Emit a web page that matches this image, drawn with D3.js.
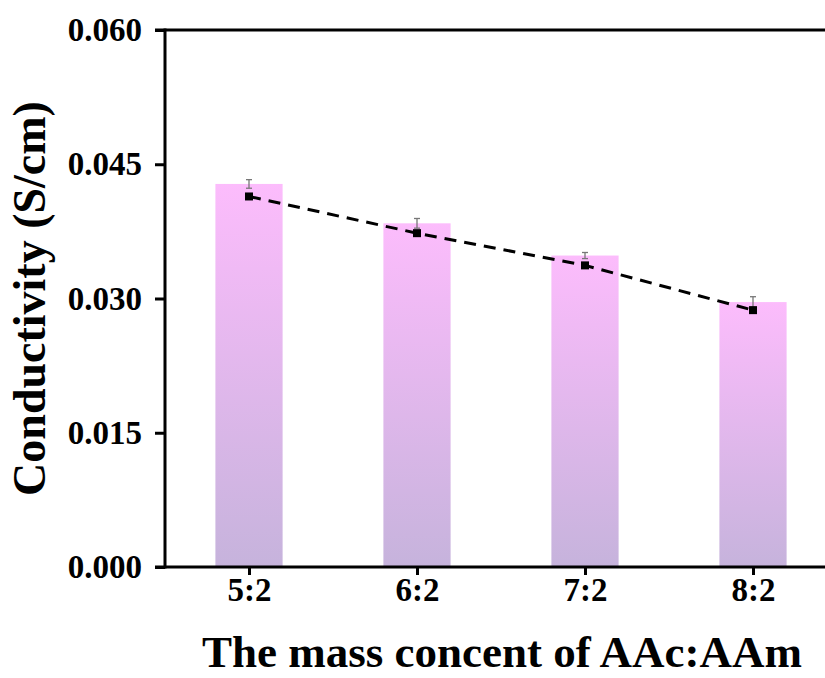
<!DOCTYPE html>
<html>
<head>
<script src="https://d3js.org/d3.v7.min.js"></script>
<style>
  body { margin: 0; background: white; }
  text { font-family: "Liberation Serif", "Times New Roman", serif; font-weight: bold; }
</style>
</head>
<body>
<svg width="825" height="678"></svg>
<script>
const categories = ["5:2", "6:2", "7:2", "8:2"]
const barValues = [0.0428, 0.0384, 0.0348, 0.0296]
const barErrors = [0.00048, 0.00054, 0.00034, 0.0006]
const lineValues = [0.0414, 0.0373, 0.0337, 0.0287]
const yTicks = [0, 0.015, 0.030, 0.045, 0.060]

const svg = d3.select("svg")
const plotLeft = 165, plotRight = 837, plotTop = 30, plotBottom = 567

var x = d3.scaleLinear().domain([0.5, 4.5]).range([plotLeft, plotRight])
var y = d3.scaleLinear().domain([0, 0.06]).range([plotBottom, plotTop])
const bw = 0.4 * (x(2) - x(1))

var grad = svg.append("defs").append("linearGradient")
  .attr("id", "barGrad")
  .attr("x1", 0).attr("y1", 0).attr("x2", 0).attr("y2", 1)
grad.append("stop").attr("offset", "0%").attr("stop-color", "#fcbcfc")
grad.append("stop").attr("offset", "100%").attr("stop-color", "#c6b3dc")

// bars
svg.append("g").selectAll("rect").data(barValues).enter().append("rect")
  .attr("x", function(d, i){ return x(i + 1) - bw / 2 })
  .attr("y", function(d){ return y(d) })
  .attr("width", bw)
  .attr("height", function(d){ return plotBottom - y(d) })
  .style("fill", "url(#barGrad)")

// error bars
var eb = svg.append("g").style("stroke", "#777").style("stroke-width", 1.3)
barValues.forEach(function(d, i){
  var cx = x(i + 1), e = barErrors[i]
  eb.append("line").attr("x1", cx).attr("x2", cx).attr("y1", y(d + e)).attr("y2", y(d - e))
  eb.append("line").attr("x1", cx - 3).attr("x2", cx + 3).attr("y1", y(d + e)).attr("y2", y(d + e))
  eb.append("line").attr("x1", cx - 3).attr("x2", cx + 3).attr("y1", y(d - e)).attr("y2", y(d - e))
})

// dashed line + square markers
var line = d3.line().x(function(d, i){ return x(i + 1) }).y(function(d){ return y(d) })
svg.append("path").datum(lineValues)
  .attr("d", line)
  .style("fill", "none")
  .style("stroke", "black")
  .style("stroke-width", 3)
  .style("stroke-dasharray", "12,8")
svg.append("g").selectAll("rect").data(lineValues).enter().append("rect")
  .attr("x", function(d, i){ return x(i + 1) - 4 })
  .attr("y", function(d){ return y(d) - 4 })
  .attr("width", 8).attr("height", 8)
  .style("fill", "black")

// frame top line
svg.append("line")
  .attr("x1", plotLeft - 10).attr("x2", 825).attr("y1", plotTop).attr("y2", plotTop)
  .style("stroke", "black").style("stroke-width", 3)

// y axis
var yAxis = svg.append("g")
  .attr("transform", "translate(" + plotLeft + ",0)")
  .call(d3.axisLeft(y).tickValues(yTicks).tickFormat(d3.format(".3f")).tickSize(10).tickPadding(13))
yAxis.select(".domain").style("stroke-width", 3).attr("d", "M0," + (plotBottom + 1.5) + "V" + (plotTop - 1.5))
yAxis.selectAll(".tick line").style("stroke-width", 3)
yAxis.selectAll(".tick text").style("font-size", "33px").style("fill", "black")

// x axis
var xAxis = svg.append("g")
  .attr("transform", "translate(0," + plotBottom + ")")
  .call(d3.axisBottom(x).tickValues([1, 2, 3, 4]).tickFormat(function(d){ return categories[d - 1] }).tickSize(8).tickPadding(3))
xAxis.select(".domain").style("stroke-width", 3).attr("d", "M" + (plotLeft - 10) + ",0H825")
xAxis.selectAll(".tick line").style("stroke-width", 3)
xAxis.selectAll(".tick text").style("font-size", "33px").style("fill", "black")

// titles
svg.append("text")
  .attr("x", 502).attr("y", 667)
  .attr("text-anchor", "middle")
  .style("font-size", "45px")
  .text("The mass concent of AAc:AAm")
svg.append("text")
  .attr("transform", "translate(45," + ((plotTop + plotBottom) / 2) + ") rotate(-90)")
  .attr("text-anchor", "middle")
  .style("font-size", "46px")
  .text("Conductivity (S/cm)")
</script>
</body>
</html>
